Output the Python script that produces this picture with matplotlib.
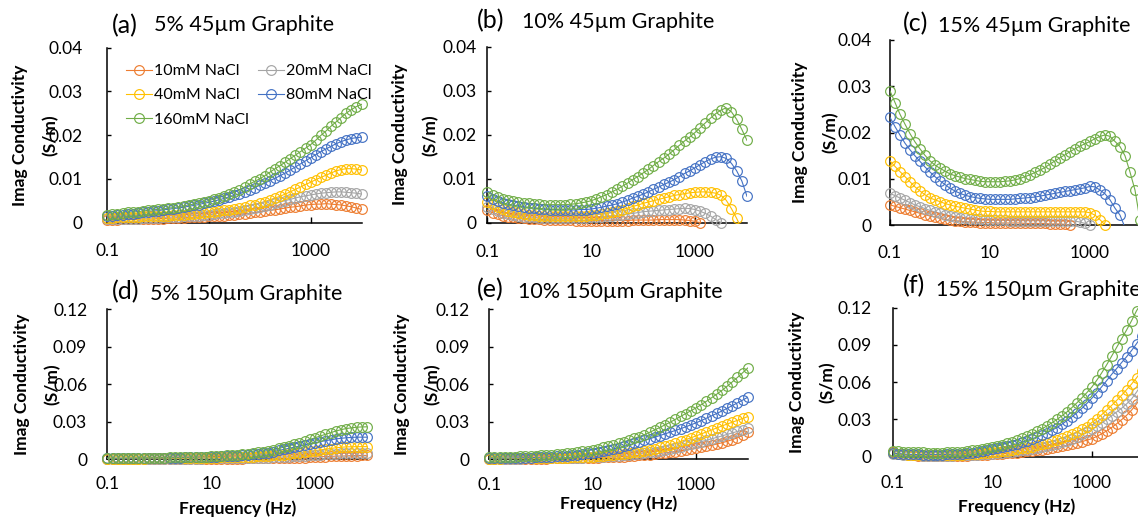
import numpy as np
import matplotlib
matplotlib.use("Agg")
import matplotlib.pyplot as plt
from matplotlib.ticker import FixedLocator, NullLocator
from matplotlib.lines import Line2D

plt.rcParams['font.family'] = ['Lato', 'DejaVu Sans']

NA = np.nan

# Frequency sweep (Hz), 10 points per decade
frequency_hz = [
    0.1, 0.126, 0.158, 0.2, 0.251, 0.316, 0.398, 0.501, 0.631, 0.794,
    1.0, 1.26, 1.58, 2.0, 2.51, 3.16, 3.98, 5.01, 6.31, 7.94,
    10, 12.6, 15.8, 20, 25.1, 31.6, 39.8, 50.1, 63.1, 79.4,
    100, 126, 158, 200, 251, 316, 398, 501, 631, 794,
    1000, 1259, 1585, 1995, 2512, 3162, 3981, 5012, 6310, 7943,
    10000,
]

salinities = ["10mM NaCl", "20mM NaCl", "40mM NaCl", "80mM NaCl", "160mM NaCl"]
series_colors = ["#ED7D31", "#A5A5A5", "#FFC000", "#4472C4", "#70AD47"]

panel_letters = ["(a)", "(b)", "(c)", "(d)", "(e)", "(f)"]
panel_titles = ["5% 45µm Graphite", "10% 45µm Graphite", "15% 45µm Graphite",
                "5% 150µm Graphite", "10% 150µm Graphite", "15% 150µm Graphite"]

top_yticks = [0, 0.01, 0.02, 0.03, 0.04]
top_ytick_labels = ["0", "0.01", "0.02", "0.03", "0.04"]
bottom_yticks = [0, 0.03, 0.06, 0.09, 0.12]
bottom_ytick_labels = ["0", "0.03", "0.06", "0.09", "0.12"]
xticks = [0.1, 10, 1000]
xtick_labels = ["0.1", "10", "1000"]

# Imaginary conductivity, mS/m
# (a) 5% 45um
a_10 = [0.6, 0.6, 0.6, 0.7, 0.7, 0.7, 0.7, 0.8, 0.8, 0.8,
        0.9, 0.9, 1.0, 1.0, 1.1, 1.1, 1.2, 1.2, 1.3, 1.3,
        1.4, 1.5, 1.6, 1.6, 1.7, 1.8, 1.9, 2.0, 2.1, 2.3,
        2.4, 2.6, 2.8, 2.9, 3.1, 3.3, 3.5, 3.6, 3.8, 4.0,
        4.1, 4.2, 4.2, 4.3, 4.2, 4.1, 4.0, 3.8, 3.6, 3.3, 3.0]
a_20 = [0.8, 0.8, 0.8, 0.8, 0.9, 0.9, 0.9, 1.0, 1.0, 1.1,
        1.1, 1.2, 1.2, 1.3, 1.3, 1.4, 1.5, 1.6, 1.6, 1.7,
        1.8, 1.9, 2.1, 2.2, 2.4, 2.5, 2.7, 2.9, 3.1, 3.3,
        3.5, 3.8, 4.1, 4.4, 4.7, 5.0, 5.3, 5.6, 5.9, 6.1,
        6.3, 6.5, 6.7, 6.8, 6.9, 7.0, 7.0, 6.9, 6.8, 6.7, 6.5]
a_40 = [1.1, 1.1, 1.2, 1.2, 1.2, 1.3, 1.3, 1.4, 1.4, 1.5,
        1.5, 1.6, 1.6, 1.7, 1.7, 1.8, 1.9, 2.0, 2.1, 2.2,
        2.3, 2.4, 2.6, 2.8, 2.9, 3.1, 3.3, 3.6, 3.9, 4.1,
        4.4, 4.8, 5.2, 5.6, 6.0, 6.5, 7.0, 7.6, 8.1, 8.7,
        9.2, 9.8, 10.3, 10.8, 11.3, 11.8, 12.1, 12.3, 12.3, 12.2, 12.0]
a_80 = [1.5, 1.6, 1.7, 1.8, 1.9, 2.0, 2.1, 2.3, 2.4, 2.6,
        2.7, 2.9, 3.0, 3.2, 3.3, 3.5, 3.7, 3.9, 4.1, 4.4,
        4.6, 4.9, 5.2, 5.5, 5.9, 6.2, 6.6, 7.0, 7.5, 8.0,
        8.5, 9.0, 9.6, 10.1, 10.7, 11.3, 12.0, 12.7, 13.4, 14.1,
        14.8, 15.5, 16.2, 16.8, 17.4, 18.0, 18.5, 18.9, 19.2, 19.4, 19.5]
a_160 = [1.8, 1.9, 2.0, 2.1, 2.3, 2.4, 2.5, 2.6, 2.8, 2.9,
         3.0, 3.1, 3.3, 3.4, 3.6, 3.8, 4.0, 4.2, 4.5, 4.7,
         5.0, 5.4, 5.7, 6.1, 6.5, 7.0, 7.5, 8.1, 8.8, 9.4,
         10.0, 10.7, 11.5, 12.3, 13.0, 13.8, 14.6, 15.4, 16.2, 17.0,
         17.8, 18.8, 19.9, 20.9, 22.0, 23.0, 24.0, 25.0, 25.8, 26.5, 27.0]

# (b) 10% 45um
b_10 = [2.8, 2.3, 1.9, 1.6, 1.4, 1.2, 1.1, 1.0, 0.9, 0.8,
        0.8, 0.7, 0.7, 0.6, 0.6, 0.6, 0.6, 0.5, 0.5, 0.5,
        0.5, 0.5, 0.5, 0.5, 0.5, 0.5, 0.5, 0.5, 0.6, 0.6,
        0.6, 0.6, 0.6, 0.7, 0.7, 0.7, 0.7, 0.7, 0.6, 0.5,
        0.3, 0.0, -0.6, NA, NA, NA, NA, NA, NA, NA, NA]
b_20 = [3.6, 3.1, 2.7, 2.3, 2.0, 1.8, 1.6, 1.4, 1.3, 1.2,
        1.1, 1.0, 1.0, 1.0, 1.0, 1.0, 1.0, 1.0, 1.1, 1.1,
        1.2, 1.3, 1.4, 1.5, 1.6, 1.7, 1.8, 2.0, 2.1, 2.3,
        2.5, 2.6, 2.7, 2.8, 2.9, 3.0, 3.1, 3.2, 3.3, 3.2,
        3.0, 2.6, 2.1, 1.5, 0.7, 0.0, -1.0, NA, NA, NA, NA]
b_40 = [4.8, 4.2, 3.6, 3.1, 2.7, 2.4, 2.1, 1.9, 1.8, 1.7,
        1.6, 1.5, 1.5, 1.5, 1.5, 1.5, 1.5, 1.5, 1.6, 1.6,
        1.7, 1.8, 2.0, 2.2, 2.4, 2.7, 3.0, 3.3, 3.7, 4.0,
        4.4, 4.7, 5.0, 5.3, 5.6, 5.9, 6.2, 6.4, 6.6, 6.8,
        6.9, 7.0, 7.0, 6.9, 6.7, 6.2, 5.1, 3.2, 1.0, -1.5, NA]
b_80 = [6.0, 5.4, 4.9, 4.5, 4.2, 4.0, 3.8, 3.6, 3.4, 3.3,
        3.2, 3.1, 3.0, 3.0, 2.9, 2.9, 2.9, 2.9, 3.0, 3.0,
        3.1, 3.3, 3.5, 3.8, 4.0, 4.3, 4.7, 5.1, 5.6, 6.0,
        6.5, 7.0, 7.6, 8.1, 8.7, 9.2, 9.8, 10.5, 11.2, 11.8,
        12.5, 13.2, 13.9, 14.5, 14.9, 15.0, 14.6, 13.5, 11.8, 9.5, 6.0]
b_160 = [7.0, 6.3, 5.8, 5.4, 5.1, 4.9, 4.7, 4.5, 4.4, 4.3,
         4.2, 4.1, 4.1, 4.1, 4.1, 4.1, 4.2, 4.3, 4.5, 4.7,
         5.0, 5.4, 5.9, 6.4, 7.0, 7.6, 8.3, 9.0, 9.8, 10.5,
         11.3, 12.1, 13.0, 13.9, 14.7, 15.6, 16.6, 17.6, 18.6, 19.5,
         20.5, 21.6, 22.7, 23.8, 24.8, 25.6, 26.1, 25.2, 23.5, 21.2, 18.7]

# (c) 15% 45um
c_10 = [4.4, 4.1, 3.8, 3.5, 3.2, 2.9, 2.6, 2.3, 2.0, 1.8,
        1.5, 1.3, 1.1, 1.0, 0.9, 0.8, 0.7, 0.7, 0.6, 0.6,
        0.6, 0.5, 0.5, 0.5, 0.5, 0.5, 0.5, 0.4, 0.4, 0.4,
        0.4, 0.4, 0.3, 0.3, 0.3, 0.2, 0.1, -0.5, NA, NA,
        NA, NA, NA, NA, NA, NA, NA, NA, NA, NA, NA]
c_20 = [6.9, 6.4, 5.9, 5.4, 4.9, 4.4, 4.0, 3.6, 3.2, 2.9,
        2.6, 2.3, 2.0, 1.8, 1.6, 1.5, 1.4, 1.3, 1.3, 1.2,
        1.2, 1.1, 1.1, 1.1, 1.0, 1.0, 1.0, 1.0, 1.0, 1.0,
        1.0, 1.0, 1.0, 1.0, 1.0, 1.0, 0.9, 0.9, 0.7, 0.4,
        0.1, -0.8, NA, NA, NA, NA, NA, NA, NA, NA, NA]
c_40 = [13.9, 12.7, 11.6, 10.5, 9.4, 8.3, 7.4, 6.6, 5.9, 5.5,
        5.1, 4.7, 4.4, 4.1, 3.9, 3.7, 3.5, 3.3, 3.1, 3.0,
        3.0, 2.9, 2.9, 2.9, 2.9, 2.9, 2.9, 2.9, 2.9, 2.9,
        2.9, 2.9, 2.9, 2.9, 2.9, 2.9, 2.9, 2.9, 2.9, 2.9,
        2.7, 2.2, 1.2, 0.1, -1.0, NA, NA, NA, NA, NA, NA]
c_80 = [23.3, 21.3, 19.5, 17.7, 16.3, 15.0, 13.8, 12.6, 11.5, 10.5,
        9.6, 8.8, 8.0, 7.4, 6.9, 6.5, 6.2, 6.0, 5.8, 5.7,
        5.6, 5.6, 5.6, 5.6, 5.6, 5.7, 5.8, 5.9, 6.0, 6.1,
        6.3, 6.5, 6.7, 6.9, 7.1, 7.3, 7.5, 7.7, 7.9, 8.1,
        8.4, 8.3, 7.6, 6.8, 5.5, 3.7, 2.2, -0.5, NA, NA, NA]
c_160 = [29.0, 26.5, 24.0, 21.8, 19.8, 18.0, 16.5, 15.1, 13.9, 13.0,
         12.3, 11.7, 11.1, 10.7, 10.4, 10.1, 9.9, 9.7, 9.5, 9.4,
         9.4, 9.4, 9.4, 9.5, 9.6, 9.8, 10.1, 10.5, 10.9, 11.4,
         11.9, 12.5, 13.2, 13.9, 14.6, 15.2, 15.9, 16.5, 17.1, 17.6,
         18.1, 18.7, 19.2, 19.5, 19.2, 18.1, 17.0, 15.0, 11.5, 7.6, 1.1]

# (d) 5% 150um
d_10 = [0.1, 0.1, 0.1, 0.1, 0.1, 0.1, 0.1, 0.2, 0.2, 0.2,
        0.2, 0.2, 0.2, 0.2, 0.2, 0.2, 0.3, 0.3, 0.3, 0.3,
        0.3, 0.3, 0.4, 0.4, 0.4, 0.4, 0.4, 0.5, 0.5, 0.5,
        0.5, 0.6, 0.6, 0.7, 0.7, 0.8, 0.9, 1.1, 1.2, 1.4,
        1.6, 1.8, 2.0, 2.1, 2.3, 2.4, 2.5, 2.7, 2.8, 2.9, 2.9]
d_20 = [0.2, 0.2, 0.2, 0.2, 0.2, 0.2, 0.3, 0.3, 0.3, 0.3,
        0.3, 0.3, 0.3, 0.4, 0.4, 0.4, 0.4, 0.4, 0.4, 0.5,
        0.5, 0.5, 0.6, 0.6, 0.7, 0.7, 0.8, 0.9, 0.9, 1.0,
        1.1, 1.2, 1.4, 1.5, 1.7, 1.9, 2.2, 2.4, 2.7, 2.9,
        3.2, 3.5, 3.7, 4.0, 4.2, 4.5, 4.7, 4.8, 5.0, 5.0, 5.1]
d_40 = [0.3, 0.3, 0.3, 0.3, 0.4, 0.4, 0.4, 0.4, 0.5, 0.5,
        0.5, 0.6, 0.6, 0.7, 0.7, 0.8, 0.8, 0.9, 0.9, 1.0,
        1.1, 1.2, 1.3, 1.4, 1.5, 1.6, 1.7, 1.9, 2.0, 2.2,
        2.4, 2.7, 3.0, 3.3, 3.6, 4.0, 4.5, 5.0, 5.6, 6.1,
        6.7, 7.3, 7.9, 8.4, 9.0, 9.4, 9.7, 9.8, 9.9, 9.9, 9.9]
d_80 = [0.5, 0.5, 0.5, 0.5, 0.6, 0.6, 0.6, 0.7, 0.7, 0.8,
        0.8, 0.9, 1.0, 1.1, 1.2, 1.3, 1.4, 1.5, 1.7, 1.8,
        1.9, 2.0, 2.2, 2.3, 2.5, 2.7, 3.0, 3.3, 3.7, 4.1,
        4.5, 5.2, 6.0, 6.9, 7.7, 8.6, 9.5, 10.4, 11.3, 12.2,
        13.0, 13.9, 14.7, 15.4, 16.1, 16.6, 17.0, 17.3, 17.5, 17.5, 17.5]
d_160 = [0.8, 0.8, 0.8, 0.8, 0.9, 0.9, 0.9, 1.0, 1.0, 1.1,
         1.1, 1.2, 1.3, 1.4, 1.4, 1.5, 1.6, 1.8, 1.9, 2.0,
         2.2, 2.4, 2.6, 2.9, 3.2, 3.5, 3.9, 4.3, 4.8, 5.4,
         6.0, 6.7, 7.6, 8.5, 9.5, 10.5, 11.8, 13.1, 14.4, 15.7,
         17.0, 18.4, 19.8, 21.1, 22.4, 23.5, 24.4, 25.0, 25.5, 25.7, 25.8]

# (e) 10% 150um
e_10 = [0.2, 0.2, 0.2, 0.2, 0.3, 0.3, 0.3, 0.3, 0.4, 0.4,
        0.4, 0.4, 0.5, 0.5, 0.6, 0.6, 0.7, 0.7, 0.8, 0.9,
        1.0, 1.1, 1.3, 1.4, 1.6, 1.8, 2.0, 2.3, 2.6, 2.9,
        3.2, 3.6, 4.1, 4.5, 5.0, 5.5, 6.0, 6.6, 7.2, 7.8,
        8.5, 9.3, 10.1, 11.0, 12.0, 13.0, 14.2, 15.5, 17.0, 19.0, 21.5]
e_20 = [0.3, 0.3, 0.3, 0.3, 0.4, 0.4, 0.4, 0.5, 0.5, 0.5,
        0.6, 0.6, 0.7, 0.7, 0.8, 0.9, 1.0, 1.1, 1.2, 1.3,
        1.4, 1.6, 1.8, 2.1, 2.3, 2.6, 3.0, 3.4, 3.9, 4.3,
        4.8, 5.4, 6.0, 6.7, 7.4, 8.2, 9.1, 10.0, 10.9, 11.8,
        12.8, 13.9, 15.0, 16.2, 17.3, 18.5, 19.7, 20.9, 22.1, 23.3, 24.5]
e_40 = [0.4, 0.4, 0.4, 0.5, 0.5, 0.6, 0.6, 0.7, 0.7, 0.8,
        0.8, 0.9, 1.0, 1.0, 1.1, 1.2, 1.3, 1.5, 1.7, 1.8,
        2.0, 2.3, 2.6, 2.9, 3.3, 3.7, 4.2, 4.7, 5.3, 5.9,
        6.5, 7.4, 8.3, 9.3, 10.4, 11.5, 12.8, 14.1, 15.5, 17.0,
        18.5, 20.1, 21.7, 23.3, 24.9, 26.5, 28.0, 29.5, 31.0, 32.5, 34.0]
e_80 = [0.6, 0.6, 0.7, 0.7, 0.8, 0.9, 1.0, 1.1, 1.2, 1.3,
        1.5, 1.7, 2.0, 2.2, 2.5, 2.8, 3.2, 3.6, 4.1, 4.5,
        5.0, 5.7, 6.5, 7.3, 8.1, 9.0, 10.1, 11.3, 12.5, 13.8,
        15.0, 16.2, 17.5, 18.8, 20.2, 21.5, 22.9, 24.3, 25.8, 27.4,
        29.0, 30.8, 32.7, 34.6, 36.5, 38.5, 40.6, 42.8, 45.0, 47.2, 49.5]
e_160 = [1.3, 1.4, 1.5, 1.7, 1.8, 2.0, 2.2, 2.4, 2.6, 2.8,
         3.0, 3.3, 3.6, 3.9, 4.2, 4.6, 5.1, 5.6, 6.2, 6.8,
         7.5, 8.4, 9.3, 10.3, 11.4, 12.5, 13.8, 15.1, 16.5, 18.0,
         19.5, 21.4, 23.3, 25.3, 27.4, 29.5, 31.8, 34.1, 36.4, 38.7,
         41.0, 43.6, 46.3, 49.1, 52.0, 55.0, 58.3, 61.8, 65.4, 69.1, 73.0]

# (f) 15% 150um
f_10 = [3.5, 2.5, 1.8, 1.3, 1.0, 0.8, 0.7, 0.6, 0.5, 0.5,
        0.5, 0.5, 0.6, 0.7, 0.8, 0.9, 1.0, 1.2, 1.4, 1.6,
        1.8, 2.1, 2.4, 2.7, 3.0, 3.3, 3.7, 4.2, 4.7, 5.2,
        5.7, 6.3, 7.0, 7.6, 8.4, 9.2, 10.1, 11.1, 12.1, 13.3,
        14.5, 16.3, 18.4, 20.8, 23.5, 26.5, 29.8, 33.3, 37.5, 42.5, 48.0]
f_20 = [2.5, 2.0, 1.6, 1.3, 1.1, 1.0, 0.9, 0.8, 0.8, 0.8,
        0.8, 0.8, 0.9, 1.0, 1.1, 1.2, 1.4, 1.7, 2.0, 2.2,
        2.5, 2.8, 3.2, 3.6, 4.0, 4.5, 5.0, 5.6, 6.2, 6.8,
        7.5, 8.4, 9.4, 10.5, 11.7, 13.0, 14.5, 16.2, 18.0, 20.0,
        22.0, 24.5, 27.1, 30.0, 33.0, 36.0, 39.0, 42.5, 46.5, 52.0, 58.0]
f_40 = [3.0, 2.4, 2.0, 1.7, 1.6, 1.5, 1.4, 1.3, 1.2, 1.2,
        1.2, 1.3, 1.4, 1.5, 1.6, 1.8, 2.1, 2.5, 2.8, 3.1,
        3.5, 3.9, 4.4, 4.9, 5.4, 6.0, 6.7, 7.4, 8.2, 9.1,
        10.0, 11.1, 12.3, 13.6, 15.0, 16.5, 18.2, 20.0, 22.0, 24.2,
        27.5, 30.5, 33.8, 37.5, 41.3, 45.3, 49.5, 54.0, 58.5, 63.5, 69.0]
f_80 = [3.0, 2.5, 2.2, 2.0, 1.9, 1.8, 1.7, 1.7, 1.7, 1.7,
        1.7, 1.8, 2.0, 2.2, 2.5, 2.8, 3.3, 3.9, 4.6, 5.3,
        6.0, 6.8, 7.6, 8.5, 9.5, 10.5, 11.7, 13.0, 14.4, 15.9,
        17.5, 19.3, 21.3, 23.5, 26.1, 29.0, 32.0, 35.3, 38.9, 42.8,
        47.0, 51.5, 56.3, 61.3, 66.3, 71.0, 75.8, 80.5, 85.5, 91.0, 97.0]
f_160 = [4.5, 4.2, 4.0, 3.8, 3.6, 3.5, 3.4, 3.3, 3.3, 3.3,
         3.3, 3.4, 3.6, 3.8, 4.1, 4.5, 5.0, 5.6, 6.2, 6.8,
         7.5, 8.5, 9.6, 10.8, 12.1, 13.5, 15.0, 16.7, 18.5, 20.4,
         22.5, 24.8, 27.3, 30.0, 32.9, 36.0, 39.5, 43.3, 47.3, 51.5,
         56.0, 61.5, 67.5, 74.0, 81.0, 88.0, 95.0, 102.0, 109.5, 117.5, 124.0]

panel_series = [
    [a_10, a_20, a_40, a_80, a_160],
    [b_10, b_20, b_40, b_80, b_160],
    [c_10, c_20, c_40, c_80, c_160],
    [d_10, d_20, d_40, d_80, d_160],
    [e_10, e_20, e_40, e_80, e_160],
    [f_10, f_20, f_40, f_80, f_160],
]

# ---- layout (pixels) ----
W, H = 1138, 519
fig = plt.figure(figsize=(W / 100, H / 100), dpi=100)


def fx(x):
    return x / W


def fy(y):
    return 1 - y / H


# left, right, top, bottom of each plot area
boxes = [
    (107.3, 361.5, 47.5, 222.5),
    (487.3, 747.0, 46.7, 222.7),
    (890.0, 1140.0, 40.0, 225.3),
    (107.3, 367.0, 309.3, 459.0),
    (489.3, 747.8, 309.3, 459.0),
    (892.7, 1141.5, 307.7, 456.7),
]
ytick_pad = [18, 7.5, 13, 14.5, 14, 15]
xtick_pad = [15, 15, 14.5, 12.5, 13, 13.5]
ylabel_x = [35, 415, 815, 37, 417, 812]
letter_pos = [(112, 33), (477, 28.5), (903, 31.5), (112, 299.5), (477, 297.5), (903, 293.5)]
title_pos = [(154, 31), (522, 28.5), (938, 31.5), (150, 299.5), (518, 297.5), (936, 296)]
xlabel_y = [None, None, None, 509, 504, 507]

FS_TICK = 12.5
MS = 7.0
MEW = 0.85
LW = 0.8

for k in range(6):
    left, right, top, bottom = boxes[k]
    ax = fig.add_axes([fx(left), fy(bottom), (right - left) / W, (bottom - top) / H])
    ax.set_facecolor("none")
    top_row = k < 3
    ymax = 0.04 if top_row else 0.12
    f = np.array(frequency_hz)

    for vals, color in zip(panel_series[k], series_colors):
        y = np.array(vals, dtype=float) * 1e-3
        ax.plot(f, y, '-', color=color, lw=LW, zorder=2)
        shown = np.isfinite(y) & (y >= -1e-9) & (y <= ymax + 1e-9)
        ax.plot(f[shown], y[shown], 'o', ls='none', mfc='none', mec=color,
                ms=MS, mew=MEW, clip_on=False, zorder=3)

    ax.set_xscale('log')
    ax.set_xlim(0.1, 1e4)
    ax.set_ylim(0, ymax)
    ax.xaxis.set_major_locator(FixedLocator(xticks))
    ax.xaxis.set_minor_locator(NullLocator())
    ax.set_xticklabels(xtick_labels)
    if top_row:
        ax.set_yticks(top_yticks)
        ax.set_yticklabels(top_ytick_labels)
    else:
        ax.set_yticks(bottom_yticks)
        ax.set_yticklabels(bottom_ytick_labels)

    for side in ("top", "right"):
        ax.spines[side].set_visible(False)
    for side in ("left", "bottom"):
        ax.spines[side].set_linewidth(1.1)
        ax.spines[side].set_color("black")
        ax.spines[side].set_zorder(1)
    ax.tick_params(axis='x', direction='in', length=4, width=1.0,
                   labelsize=FS_TICK, pad=xtick_pad[k])
    ax.tick_params(axis='y', direction='in', length=3, width=1.0,
                   labelsize=FS_TICK, pad=ytick_pad[k])

    # two-line axis title drawn as separate lines
    yc = (top + bottom) / 2
    fig.text(fx(ylabel_x[k] - 15), fy(yc), "Imag Conductivity", rotation=90,
             ha='center', va='center', fontsize=12.5, fontweight='bold')
    fig.text(fx(ylabel_x[k] + 15), fy(yc), "(S/m)", rotation=90,
             ha='center', va='center', fontsize=12.5, fontweight='bold')

    lx, ly = letter_pos[k]
    fig.text(fx(lx), fy(ly), panel_letters[k], ha='left', va='baseline', fontsize=18)
    tx, ty = title_pos[k]
    fig.text(fx(tx), fy(ty), panel_titles[k], ha='left', va='baseline', fontsize=15.5)

    if xlabel_y[k] is not None:
        fig.text(fx((left + right) / 2), fy(xlabel_y[k]), "Frequency (Hz)",
                 ha='center', va='center', fontsize=12.5, fontweight='bold')

    if k == 0:
        handles = [Line2D([], [], color=c, lw=LW, marker='o', mfc='none', mec=c,
                          ms=MS, mew=MEW) for c in series_colors]
        order = [0, 2, 4, 1, 3]
        fig.legend([handles[i] for i in order], [salinities[i] for i in order],
                   ncol=2, loc='upper left',
                   bbox_to_anchor=(fx(126), fy(64)), frameon=False,
                   fontsize=11.5, handlelength=1.6, handletextpad=0.15,
                   columnspacing=0.6, labelspacing=0.63, borderpad=0,
                   borderaxespad=0)

fig.savefig("out.png", dpi=100)
